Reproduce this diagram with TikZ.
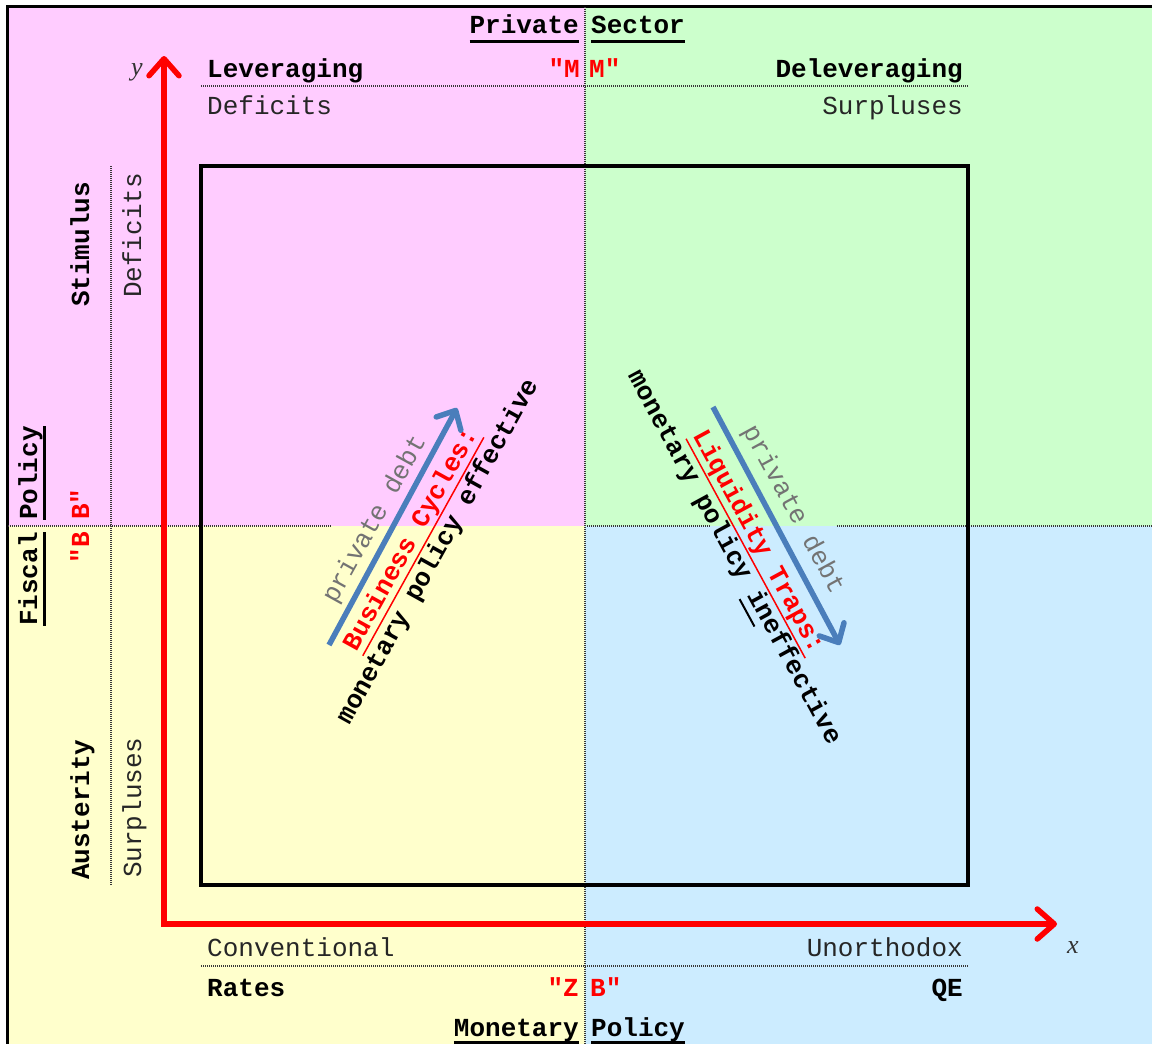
\documentclass[tikz,border=0pt]{standalone}
\usepackage{fontspec}
\setmainfont{Liberation Serif}
\newfontfamily\mono{Liberation Mono}
\usetikzlibrary{arrows.meta}
\definecolor{qpink}{HTML}{FFCCFF}
\definecolor{qgreen}{HTML}{CCFFCC}
\definecolor{qyellow}{HTML}{FFFFCC}
\definecolor{qblue}{HTML}{CCECFF}
\definecolor{debtblue}{HTML}{4A7EBB}
% underlined text: #1 depth of the rule's bottom, #2 rule thickness, #3 text
\newcommand\ulx[3]{\setbox0=\hbox{#3}\rlap{\rule[-#1]{\wd0}{#2}}\box0}
\begin{document}
\begin{tikzpicture}[x=1pt,y=-1pt,
  txt/.style={inner sep=0pt,font=\mono\fontsize{26}{30}\selectfont,text=black!85},
  bold/.style={inner sep=0pt,font=\mono\bfseries\fontsize{26}{30}\selectfont,text=black},
  redbold/.style={bold,text=red},
  debttxt/.style={txt,text=black!55},
  axlabel/.style={inner sep=0pt,font=\itshape\fontsize{26}{30}\selectfont,text=black!80},
  divider/.style={draw=black!78,line width=2pt,dash pattern=on 1pt off 1pt},
  axis/.style={draw=red,line width=5.5pt,line join=miter,
    {Straight Barb[length=17pt,width=30pt,round]}-{Straight Barb[length=17pt,width=30pt,round]}},
  debt/.style={draw=debtblue,line width=5.5pt,
    -{Straight Barb[length=15pt,width=28pt,round]}},
]
\useasboundingbox (0,0) rectangle (1152,1044);
\clip (0,0) rectangle (1152,1044);

% quadrants
\fill[qpink]   (8,7)     rectangle (585,526);
\fill[qgreen]  (585,7)   rectangle (1152,526);
\fill[qyellow] (8,526)   rectangle (585,1044);
\fill[qblue]   (585,526) rectangle (1152,1044);
\draw[line width=3pt] (7.5,1044) -- (7.5,6.5) -- (1152,6.5);

% dividers
\draw[divider] (585,7) -- (585,1044);
\draw[divider] (8,526) -- (332,526);
\draw[divider] (587,526) -- (710,526);
\draw[divider] (837,526) -- (1152,526);
\draw[divider] (201,86) -- (969,86);
\draw[divider] (201,966) -- (969,966);
\draw[divider] (111,166) -- (111,885);

% frame
\draw[line width=4pt] (201,166) rectangle (968,885);

% axes
\coordinate (origin) at (164,924);
\coordinate (ytip) at (164,56);
\coordinate (xtip) at (1057,924);
\draw[axis] (ytip) -- (origin) -- (xtip);
\node[axlabel] (ylab) at (137,72) {y};
\node[axlabel] (xlab) at (1073,948) {x};

% private sector
\node[bold,anchor=base east] (private) at (579,34) {\ulx{8.5pt}{3pt}{Private}};
\node[bold,anchor=base west] (sector) at (591,34) {\ulx{8.5pt}{3pt}{Sector}};
\node[bold,anchor=base west] (lev) at (207,77) {Leveraging};
\node[redbold,anchor=base east] (mleft) at (580,77) {"M};
\node[redbold,anchor=base west] (mright) at (589,77) {M"};
\node[bold,anchor=base east] (delev) at (963,77) {Deleveraging};
\node[txt,anchor=base west] (defx) at (207,114) {Deficits};
\node[txt,anchor=base east] (surx) at (963,114) {Surpluses};

% monetary policy
\node[txt,anchor=base west] (conv) at (207,956) {Conventional};
\node[txt,anchor=base east] (unorth) at (963,956) {Unorthodox};
\node[bold,anchor=base west] (rates) at (207,996) {Rates};
\node[redbold,anchor=base east] (zleft) at (579,996) {"Z};
\node[redbold,anchor=base west] (zright) at (590,996) {B"};
\node[bold,anchor=base east] (qe) at (963,996) {QE};
\node[bold,anchor=base east] (monetary) at (579,1036) {\ulx{7.5pt}{3pt}{Monetary}};
\node[bold,anchor=base west] (mpolicy) at (591,1036) {\ulx{7.5pt}{3pt}{Policy}};

% fiscal policy
\node[bold,rotate=90,anchor=base east] (fiscal) at (37,532) {\ulx{8.5pt}{3pt}{Fiscal}};
\node[bold,rotate=90,anchor=base west] (fpolicy) at (37,520) {\ulx{8.5pt}{3pt}{Policy}};
\node[redbold,rotate=90,anchor=base east] (bleft) at (89,532) {"B};
\node[redbold,rotate=90,anchor=base west] (bright) at (89,520) {B"};
\node[bold,rotate=90,anchor=base west] (stim) at (89,307) {Stimulus};
\node[bold,rotate=90,anchor=base west] (aust) at (89,880) {Austerity};
\node[txt,rotate=90,anchor=base west] (defy) at (141,298) {Deficits};
\node[txt,rotate=90,anchor=base west] (sury) at (141,878) {Surpluses};

% business cycles
\coordinate (bcstart) at (329,645);
\coordinate (bcend) at (457,408);
\draw[debt] (bcstart) -- (bcend);
\node[debttxt,rotate=61,anchor=base] (pdl) at (381,523) {private debt};
\node[redbold,rotate=61,anchor=base] (bc) at (417,543) {\ulx{8pt}{1.5pt}{Business Cycles:}};
\node[bold,rotate=61,anchor=base] (mpe) at (444,555) {monetary policy effective};

% liquidity traps
\coordinate (ltstart) at (713,407);
\coordinate (ltend) at (840,645);
\draw[debt] (ltstart) -- (ltend);
\node[debttxt,rotate=-61.5,anchor=base] (pdr) at (787,513) {private debt};
\node[redbold,rotate=-61.5,anchor=base] (lt) at (752,545) {\ulx{8pt}{1.5pt}{Liquidity Traps:}};
\node[bold,rotate=-61.5,anchor=base] (mpi) at (728,561) {monetary policy \ulx{9pt}{2pt}{in}effective};
\end{tikzpicture}
\end{document}
